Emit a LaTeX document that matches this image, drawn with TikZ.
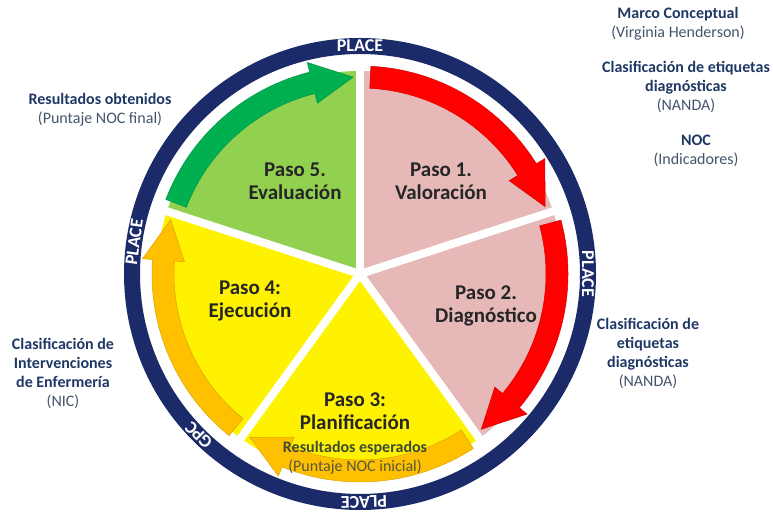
\documentclass[tikz,border=0pt]{standalone}
\usepackage{fontspec}
\setmainfont{Carlito}
\usetikzlibrary{positioning}

\definecolor{ringblue}{HTML}{1B2A68}
\definecolor{labelblue}{HTML}{1F3864}
\definecolor{notegray}{HTML}{44546A}
\definecolor{pinkfill}{HTML}{E6B9B8}
\definecolor{greenfill}{HTML}{92D050}
\definecolor{arrowred}{HTML}{FF0000}
\definecolor{arroworange}{HTML}{FFC000}
\definecolor{arrowgreen}{HTML}{00B050}
\definecolor{olivetext}{HTML}{3E4A36}
\definecolor{olivenote}{HTML}{5A5642}

% curved band arrow: start angle, tip angle, colour
\newcommand{\bandarrow}[3]{%
  \pgfmathsetmacro\hb{#2+12}
  \filldraw[fill=#3,draw=#3!85!black,line width=0.5pt] (#1:208pt) arc[start angle=#1, end angle=\hb, radius=208pt]
    -- (\hb:218pt) -- (#2:197pt) -- (\hb:176pt) -- (\hb:186pt)
    arc[start angle=\hb, end angle=#1, radius=186pt] -- cycle;}
\newcommand{\tagline}[1]{\textcolor{labelblue}{\bfseries #1}}

\begin{document}
\begin{tikzpicture}[x=1pt,y=1pt,
    ringtext/.style={text=white,font=\fontsize{18}{18}\selectfont\bfseries,inner sep=0pt},
    pasotext/.style={align=center,font=\fontsize{21}{23}\selectfont\bfseries,text=black!85},
    sidetext/.style={align=center,font=\fontsize{16}{19}\selectfont,text=notegray}]
    \useasboundingbox (0,0) rectangle (773,518);

    \begin{scope}[shift={(360,244)}]
        % Sectors
        \foreach \s/\c in {90/pinkfill,18/pinkfill,-54/yellow,-126/yellow,162/greenfill} {
            \fill[\c] (0,0) -- (\s:203pt) arc[start angle=\s, end angle=\s-72, radius=203pt] -- cycle;
        }
        \foreach \b in {90,18,-54,-126,162} {
            \draw[white,line width=8pt] (0,0) -- (\b:212pt);
        }

        % Arrows
        \foreach \s/\e/\c in {87/20/arrowred,15/-52/arrowred,-57/-124/arroworange,-129/-196/arroworange,-201/-268/arrowgreen} {
            \bandarrow{\s}{\e}{\c}
        }

        % Ring
        \draw[ringblue,line width=16pt] (0,0) circle[radius=228pt];
        \foreach \a/\t in {90/PLACE,0/PLACE,271/PLACE,172/PLACE,225/GPC} {
            \node[ringtext,rotate=\a-90] (ring\a) at (\a:228pt) {\t};
        }
    \end{scope}

    % Steps
    \node[pasotext] (paso1) at (441,337) {Paso 1.\\Valoración};
    \node[pasotext] (paso2) at (486,212) {Paso 2.\\Diagnóstico};
    \node[pasotext] (paso3) at (355,107) {Paso 3:\\Planificación};
    \node[pasotext] (paso4) at (250,217) {Paso 4:\\Ejecución};
    \node[pasotext] (paso5) at (295,337) {Paso 5.\\Evaluación};
    \node[align=center,font=\fontsize{16}{19}\selectfont] (esperados) at (355,60) {\textcolor{olivetext}{\bfseries Resultados esperados}\\\textcolor{olivenote}{(Puntaje NOC inicial)}};

    % Side notes
    \node[sidetext] (marco) at (678,494) {\tagline{Marco Conceptual}\\(Virginia Henderson)};
    \node[sidetext] (nanda) at (686,431) {\tagline{Clasificación de etiquetas}\\\tagline{diagnósticas}\\(NANDA)};
    \node[sidetext] (noc) at (696,367) {\tagline{NOC}\\(Indicadores)};
    \node[sidetext] (obtenidos) at (100,408) {\tagline{Resultados obtenidos}\\(Puntaje NOC final)};
    \node[sidetext] (nic) at (63,145) {\tagline{Clasificación de}\\\tagline{Intervenciones}\\\tagline{de Enfermería}\\(NIC)};
    \node[sidetext] (diagnostico) at (648,165) {\tagline{Clasificación de}\\\tagline{etiquetas}\\\tagline{diagnósticas}\\(NANDA)};
\end{tikzpicture}
\end{document}
